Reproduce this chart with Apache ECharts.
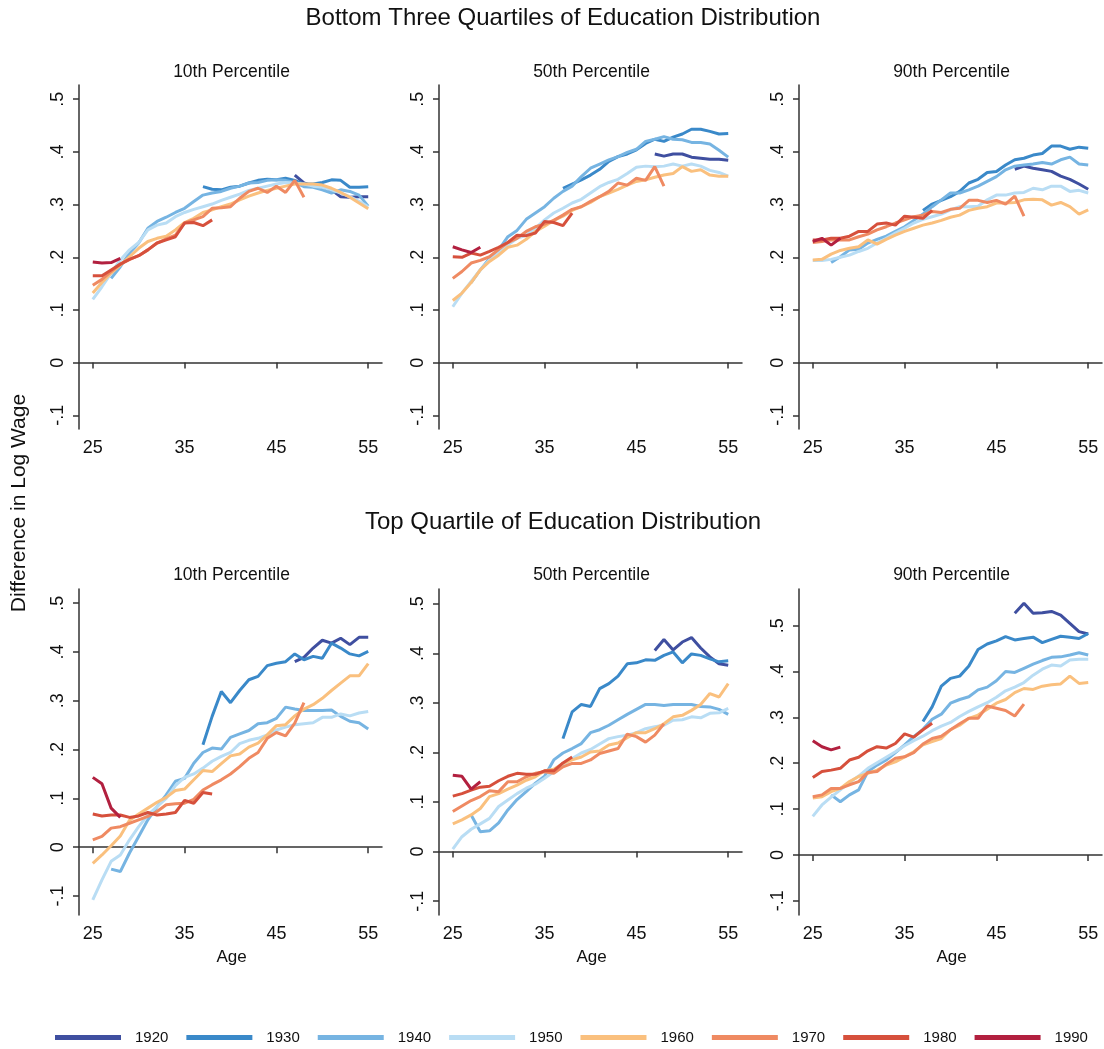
<!DOCTYPE html>
<html><head><meta charset="utf-8">
<script src="https://cdn.jsdelivr.net/npm/echarts@6/dist/echarts.min.js"></script>
<style>html,body{margin:0;padding:0;background:#fff}#c{width:1104px;height:1049px}</style>
</head><body><div id="c"></div>
<script>
const cohorts = ['1920','1930','1940','1950','1960','1970','1980','1990'];
const startAges = [47, 37, 27, 25, 25, 25, 25, 25];
const colors = ['#3F4FA0','#3A89C9','#76B4E2','#B9DDF4','#FAC07E','#EF8A62','#D6503C','#B2203F'];
const xTicks = [25, 35, 45, 55];
const yTicks = [-0.1, 0, 0.1, 0.2, 0.3, 0.4, 0.5];
const rowTitles = ['Bottom Three Quartiles of Education Distribution', 'Top Quartile of Education Distribution'];
const panelTitles = ['10th Percentile', '50th Percentile', '90th Percentile'];

// Bottom three quartiles, 10th percentile (cohorts 1920..1990)
const b3_p10 = [
  [.356,.341,.335,.331,.328,.315,.314,.315,.315],
  [.334,.329,.328,.333,.335,.341,.346,.348,.347,.350,.346,.339,.339,.342,.347,.346,.333,.333,.334],
  [.160,.182,.208,.227,.255,.268,.276,.285,.293,.306,.318,.322,.325,.331,.335,.341,.342,.346,.347,.346,.342,.334,.333,.328,.322,.328,.325,.318,.297],
  [.120,.144,.170,.195,.214,.228,.252,.261,.265,.277,.285,.291,.296,.301,.308,.314,.320,.327,.331,.335,.339,.342,.341,.339,.335,.333,.328,.322,.315,.306,.296],
  [.132,.152,.170,.185,.201,.217,.230,.236,.240,.252,.266,.274,.285,.290,.296,.301,.309,.316,.322,.327,.331,.335,.339,.339,.339,.337,.331,.323,.314,.303,.292],
  [.147,.158,.173,.187,.196,.203,.214,.227,.235,.242,.265,.271,.277,.293,.294,.296,.312,.325,.331,.323,.335,.323,.346,.314],
  [.165,.165,.176,.187,.196,.203,.214,.227,.233,.239,.265,.266,.260,.271],
  [.191,.189,.190,.198]
];
// Bottom three quartiles, 50th percentile
const b3_p50 = [
  [.396,.392,.396,.396,.390,.388,.386,.386,.384],
  [.331,.339,.347,.356,.367,.382,.391,.396,.404,.416,.424,.420,.428,.434,.443,.443,.439,.434,.435],
  [.152,.176,.198,.214,.239,.251,.272,.284,.296,.312,.325,.335,.353,.369,.377,.385,.391,.399,.405,.420,.424,.429,.424,.423,.418,.418,.415,.403,.390],
  [.106,.132,.154,.176,.195,.208,.223,.236,.242,.255,.271,.284,.293,.303,.310,.322,.334,.342,.348,.359,.371,.373,.372,.373,.377,.373,.377,.373,.365,.361,.354],
  [.118,.132,.152,.176,.192,.204,.219,.223,.234,.249,.259,.270,.278,.289,.296,.304,.315,.322,.329,.337,.344,.347,.352,.356,.359,.372,.363,.366,.356,.354,.354],
  [.160,.173,.189,.194,.201,.215,.228,.236,.249,.258,.263,.270,.280,.291,.296,.306,.315,.325,.341,.337,.350,.346,.372,.335],
  [.201,.200,.208,.204,.211,.219,.228,.242,.241,.246,.268,.266,.260,.284],
  [.220,.214,.209,.219]
];
// Bottom three quartiles, 90th percentile
const b3_p90 = [
  [.367,.373,.369,.366,.363,.354,.348,.339,.329],
  [.289,.301,.308,.315,.325,.341,.348,.361,.363,.375,.385,.388,.394,.397,.411,.411,.405,.409,.407],
  [.190,.201,.214,.215,.227,.234,.240,.249,.258,.270,.282,.296,.309,.322,.322,.328,.335,.344,.353,.366,.373,.375,.377,.380,.377,.385,.390,.377,.375],
  [.194,.194,.196,.200,.204,.211,.217,.227,.236,.246,.255,.265,.272,.277,.282,.290,.296,.296,.297,.309,.318,.318,.322,.323,.331,.328,.335,.335,.325,.327,.322],
  [.195,.196,.206,.213,.217,.220,.233,.225,.234,.242,.249,.255,.261,.265,.270,.276,.280,.289,.293,.296,.303,.303,.304,.309,.310,.309,.299,.304,.296,.282,.290],
  [.228,.230,.233,.233,.233,.239,.244,.252,.258,.265,.271,.277,.280,.287,.285,.291,.293,.308,.308,.304,.308,.301,.316,.278],
  [.233,.233,.236,.236,.240,.249,.249,.263,.265,.261,.278,.276,.274,.289],
  [.230,.236,.223,.236]
];
// Top quartile, 10th percentile
const tq_p10 = [
  [.380,.389,.408,.424,.418,.428,.415,.430,.430],
  [.210,.268,.319,.296,.321,.343,.350,.372,.377,.380,.396,.384,.391,.387,.418,.408,.396,.392,.401],
  [-.045,-.050,-.012,.022,.056,.083,.107,.135,.141,.172,.194,.203,.201,.225,.232,.239,.253,.255,.264,.287,.283,.280,.280,.280,.281,.268,.258,.255,.242],
  [-.108,-.067,-.029,-.016,.015,.042,.066,.083,.100,.126,.143,.150,.162,.176,.186,.194,.212,.219,.223,.230,.240,.246,.251,.253,.255,.266,.266,.273,.269,.275,.278],
  [-.033,-.016,.003,.023,.055,.068,.080,.092,.102,.116,.119,.138,.157,.155,.171,.187,.191,.205,.213,.230,.249,.251,.269,.283,.292,.305,.321,.336,.351,.351,.376],
  [.015,.022,.039,.042,.049,.056,.063,.073,.087,.089,.090,.098,.117,.128,.138,.150,.165,.182,.194,.223,.235,.228,.254,.296],
  [.068,.064,.066,.066,.061,.064,.071,.066,.068,.071,.096,.090,.112,.109],
  [.143,.130,.080,.061]
];
// Top quartile, 50th percentile
const tq_p50 = [
  [.406,.428,.407,.423,.432,.411,.393,.379,.376],
  [.228,.282,.297,.293,.329,.339,.354,.379,.381,.387,.386,.396,.403,.381,.399,.396,.389,.383,.385],
  [.074,.040,.042,.058,.084,.105,.121,.138,.152,.185,.199,.208,.218,.240,.246,.255,.266,.277,.287,.297,.297,.295,.297,.297,.297,.293,.292,.287,.277],
  [.005,.030,.045,.056,.067,.091,.104,.117,.128,.136,.148,.161,.174,.188,.199,.206,.217,.228,.232,.235,.240,.248,.252,.255,.265,.266,.272,.270,.279,.280,.289],
  [.056,.064,.074,.087,.111,.117,.126,.134,.144,.151,.163,.166,.178,.185,.191,.201,.203,.215,.219,.230,.240,.240,.248,.258,.272,.275,.285,.297,.319,.312,.339],
  [.081,.092,.103,.111,.123,.121,.141,.141,.151,.158,.161,.158,.171,.178,.178,.185,.198,.203,.208,.237,.232,.221,.235,.258],
  [.112,.117,.124,.130,.132,.143,.152,.158,.156,.156,.163,.163,.179,.191],
  [.154,.152,.126,.141]
];
// Top quartile, 90th percentile
const tq_p90 = [
  [.527,.549,.527,.528,.531,.523,.505,.487,.482],
  [.291,.323,.368,.385,.390,.412,.448,.460,.467,.476,.469,.472,.475,.463,.470,.477,.475,.472,.483],
  [.131,.116,.131,.142,.182,.196,.207,.223,.240,.258,.274,.296,.307,.331,.339,.345,.360,.366,.380,.400,.398,.407,.416,.424,.431,.432,.436,.441,.436],
  [.084,.109,.126,.142,.158,.172,.189,.201,.213,.225,.238,.249,.259,.271,.281,.289,.302,.313,.323,.332,.344,.358,.366,.376,.392,.405,.414,.412,.425,.427,.427],
  [.124,.127,.138,.145,.160,.171,.178,.185,.196,.203,.214,.225,.240,.247,.254,.273,.283,.298,.305,.318,.331,.339,.354,.363,.361,.368,.371,.373,.390,.374,.376],
  [.127,.131,.145,.145,.153,.160,.180,.182,.198,.211,.214,.223,.242,.254,.259,.273,.286,.298,.298,.325,.320,.315,.303,.329],
  [.169,.182,.185,.189,.207,.213,.227,.236,.233,.243,.264,.257,.273,.287],
  [.249,.236,.229,.235]
];

const panels = [b3_p10, b3_p50, b3_p90, tq_p10, tq_p50, tq_p90];
const FONT = '"Liberation Sans", Arial, Helvetica, sans-serif';
const colLeft = [79, 439, 799];
const rowTop = [85, 589];
const rowHeight = [344, 326];
const gridW = 303;
const yRanges = [[-0.126,0.527],[-0.126,0.527],[-0.126,0.527],[-0.139,0.529],[-0.128,0.530],[-0.131,0.580]];

function fmtY(v){
  const r = Math.round(v*10)/10;
  if (r === 0) return '0';
  return (r < 0 ? '-' : '') + Math.abs(r).toFixed(1).replace(/^0/, '');
}

const grid = [], xAxis = [], yAxis = [], series = [], graphic = [];
const axisColor = '#333';
panels.forEach((panel, p) => {
  const row = Math.floor(p / 3), col = p % 3;
  grid.push({left: colLeft[col], top: rowTop[row], width: gridW, height: rowHeight[row], containLabel: false});
  xAxis.push({
    type: 'value', gridIndex: p, min: 23.5, max: 56.5,
    axisLine: {show: true, lineStyle: {color: axisColor, width: 1.5}},
    axisTick: {show: true, length: 6, customValues: xTicks, lineStyle: {color: axisColor, width: 1.5}},
    axisLabel: {customValues: xTicks, fontSize: 18, color: '#111', fontFamily: FONT, margin: 10},
    splitLine: {show: false}
  });
  yAxis.push({
    type: 'value', gridIndex: p, min: yRanges[p][0], max: yRanges[p][1],
    axisLine: {show: true, lineStyle: {color: axisColor, width: 1.5}},
    axisTick: {show: true, length: 6, customValues: yTicks, lineStyle: {color: axisColor, width: 1.5}},
    axisLabel: {customValues: yTicks, rotate: 90, fontSize: 18, color: '#111', fontFamily: FONT, margin: 12, formatter: fmtY},
    splitLine: {show: false}
  });
  panel.forEach((vals, c) => {
    series.push({
      type: 'line', name: cohorts[c], xAxisIndex: p, yAxisIndex: p,
      data: vals.map((v, i) => [startAges[c] + i, v]),
      symbol: 'none', showSymbol: false, silent: true, animation: false,
      lineStyle: {width: 3, color: colors[c]}, itemStyle: {color: colors[c]}
    });
  });
  const cx = colLeft[col] + gridW / 2 + 1;
  graphic.push({type: 'text', x: cx, y: row === 0 ? 72 : 575,
    style: {text: panelTitles[col], font: '17.5px ' + FONT, fill: '#111', align: 'center', verticalAlign: 'middle'}});
  if (row === 1) {
    graphic.push({type: 'text', x: cx, y: 957,
      style: {text: 'Age', font: '17px ' + FONT, fill: '#111', align: 'center', verticalAlign: 'middle'}});
  }
});
graphic.push({type: 'text', x: 563, y: 18, style: {text: rowTitles[0], font: '24px ' + FONT, fill: '#111', align: 'center', verticalAlign: 'middle'}});
graphic.push({type: 'text', x: 563, y: 522, style: {text: rowTitles[1], font: '24px ' + FONT, fill: '#111', align: 'center', verticalAlign: 'middle'}});
graphic.push({type: 'text', x: 19, y: 503, rotation: Math.PI / 2, style: {text: 'Difference in Log Wage', font: '21px ' + FONT, fill: '#111', align: 'center', verticalAlign: 'middle'}});

const chart = echarts.init(document.getElementById('c'), null, {renderer: 'canvas'});
chart.setOption({
  animation: false,
  backgroundColor: '#fff',
  color: colors,
  grid, xAxis, yAxis, series, graphic,
  legend: {
    data: cohorts, left: 55, top: 1030, padding: 0, icon: 'rect',
    itemWidth: 66, itemHeight: 5, itemGap: 18, selectedMode: false,
    textStyle: {fontSize: 15, color: '#111', fontFamily: FONT, padding: [0, 0, 0, 9]}
  }
});
</script></body></html>
